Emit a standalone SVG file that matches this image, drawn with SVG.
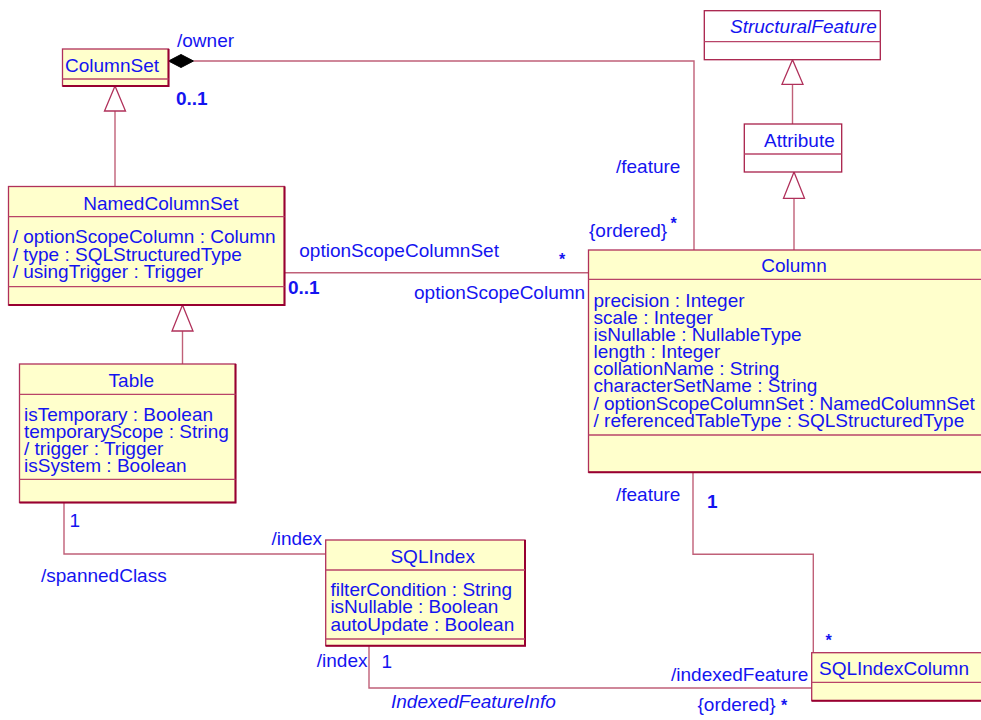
<svg xmlns="http://www.w3.org/2000/svg" width="981" height="720" viewBox="0 0 981 720">
<style>
text{font-family:"Liberation Sans",Arial,sans-serif;font-size:19px;fill:#1414f0}
.b{font-weight:bold}
.it{font-style:italic}
.ast{font-weight:bold;font-size:16px}
.box{fill:#ffffcc;stroke:#b0305a;stroke-width:1.3}
.wbox{fill:#ffffff;stroke:#a8204a;stroke-width:1.3}
.sh{fill:none;stroke:#980030;stroke-width:2}
.div{stroke:#b84468;stroke-width:1.3}
.conn{fill:none;stroke:#c06078;stroke-width:1.4}
.gen{fill:#ffffff;stroke:#b0305a;stroke-width:1.3}
</style>
<rect width="981" height="720" fill="#ffffff"/>
<g id="connectors">
<polyline class="conn" points="193.5,61 694,61 694,250"/>
<polygon points="168.5,61 181,54.5 193.5,61 181,67.5" fill="#000000" stroke="#000000" stroke-width="1"/>
<line class="conn" x1="115" y1="186.5" x2="115" y2="111"/>
<polygon class="gen" points="115,86 104.5,111 125.5,111"/>
<line class="conn" x1="182.5" y1="364" x2="182.5" y2="331"/>
<polygon class="gen" points="182.5,305 172,331 193,331"/>
<line class="conn" x1="792.5" y1="124" x2="792.5" y2="84.3"/>
<polygon class="gen" points="792.5,59.7 782,84.3 803,84.3"/>
<line class="conn" x1="794" y1="250" x2="794" y2="198.3"/>
<polygon class="gen" points="794,172 783.5,198.3 804.5,198.3"/>
<line class="conn" x1="284.5" y1="272.7" x2="588.5" y2="272.7"/>
<polyline class="conn" points="64,502.5 64,554 325.7,554"/>
<polyline class="conn" points="369,645.7 369,688 811.7,688"/>
<polyline class="conn" points="693,472.3 693,554.3 813.3,554.3 813.3,652.7"/>
<text x="177" y="47">/owner</text>
<text class="b" x="176" y="105">0..1</text>
<text x="616" y="173">/feature</text>
<text x="589" y="237">{ordered}</text>
<text class="ast" x="670.5" y="229">*</text>
<text x="299.3" y="257.3">optionScopeColumnSet</text>
<text class="ast" x="559" y="265">*</text>
<text class="b" x="288" y="294.3">0..1</text>
<text x="414" y="299.3">optionScopeColumn</text>
<text x="616" y="500.7">/feature</text>
<text class="b" x="707" y="508.3">1</text>
<text class="ast" x="825.5" y="646">*</text>
<text x="671" y="681">/indexedFeature</text>
<text x="697.5" y="711">{ordered} <tspan class="ast">*</tspan></text>
<text x="69.6" y="527.3">1</text>
<text x="271.4" y="545">/index</text>
<text x="41" y="581.7">/spannedClass</text>
<text x="316.8" y="667.3">/index</text>
<text x="381.4" y="668">1</text>
<text class="it" x="391" y="708.3">IndexedFeatureInfo</text>
</g>
<g id="ColumnSet">
<rect class="box" x="62.5" y="49" width="106" height="37"/>
<polyline class="sh" points="168.5,49 168.5,86 62.5,86"/>
<line class="div" x1="62.5" y1="79" x2="168.5" y2="79"/>
<text x="65" y="71.7">ColumnSet</text>
</g>
<g id="NamedColumnSet">
<rect class="box" x="8.5" y="186.5" width="276" height="118.5"/>
<polyline class="sh" points="284.5,186.5 284.5,305 8.5,305"/>
<line class="div" x1="8.5" y1="216.7" x2="284.5" y2="216.7"/>
<line class="div" x1="8.5" y1="286.7" x2="284.5" y2="286.7"/>
<text x="160.8" y="210" text-anchor="middle">NamedColumnSet</text>
<text x="12.7" y="243">/ optionScopeColumn : Column</text>
<text x="12.7" y="260.5">/ type : SQLStructuredType</text>
<text x="12.7" y="278">/ usingTrigger : Trigger</text>
</g>
<g id="Table">
<rect class="box" x="19.5" y="364" width="216" height="138.5"/>
<polyline class="sh" points="235.5,364 235.5,502.5 19.5,502.5"/>
<line class="div" x1="19.5" y1="394.3" x2="235.5" y2="394.3"/>
<line class="div" x1="19.5" y1="479.3" x2="235.5" y2="479.3"/>
<text x="131.3" y="386.7" text-anchor="middle">Table</text>
<text x="24" y="420.7">isTemporary : Boolean</text>
<text x="24" y="437.8">temporaryScope : String</text>
<text x="24" y="454.9">/ trigger : Trigger</text>
<text x="24" y="472">isSystem : Boolean</text>
</g>
<g id="SQLIndex">
<rect class="box" x="325.7" y="540" width="199.3" height="105.7"/>
<polyline class="sh" points="525,540 525,645.7 325.7,645.7"/>
<line class="div" x1="325.7" y1="570" x2="525" y2="570"/>
<line class="div" x1="325.7" y1="639" x2="525" y2="639"/>
<text x="432.7" y="562.7" text-anchor="middle">SQLIndex</text>
<text x="330.4" y="596">filterCondition : String</text>
<text x="330.4" y="613.3">isNullable : Boolean</text>
<text x="330.4" y="630.5">autoUpdate : Boolean</text>
</g>
<g id="Column">
<rect class="box" x="588.5" y="250" width="400" height="222.3"/>
<line class="sh" x1="588.5" y1="472.3" x2="990" y2="472.3"/>
<line class="div" x1="588.5" y1="279.3" x2="990" y2="279.3"/>
<line class="div" x1="588.5" y1="435" x2="990" y2="435"/>
<text x="794" y="272" text-anchor="middle">Column</text>
<text x="593.5" y="306.7">precision : Integer</text>
<text x="593.5" y="323.8">scale : Integer</text>
<text x="593.5" y="341">isNullable : NullableType</text>
<text x="593.5" y="358.1">length : Integer</text>
<text x="593.5" y="375.3">collationName : String</text>
<text x="593.5" y="392.4">characterSetName : String</text>
<text x="593.5" y="409.5">/ optionScopeColumnSet : NamedColumnSet</text>
<text x="593.5" y="426.7">/ referencedTableType : SQLStructuredType</text>
</g>
<g id="StructuralFeature">
<rect class="wbox" x="704.3" y="10.7" width="176" height="49"/>
<line class="div" x1="704.3" y1="41.7" x2="880.3" y2="41.7"/>
<text class="it" x="730" y="33.3">StructuralFeature</text>
</g>
<g id="Attribute">
<rect class="wbox" x="744.3" y="124" width="97.4" height="48"/>
<line class="div" x1="744.3" y1="154" x2="841.7" y2="154"/>
<text x="764" y="146.7">Attribute</text>
</g>
<g id="SQLIndexColumn">
<rect class="box" x="811.7" y="652.7" width="180" height="48"/>
<line class="sh" x1="811.7" y1="700.7" x2="991" y2="700.7"/>
<line class="div" x1="811.7" y1="682.3" x2="991" y2="682.3"/>
<text x="819" y="675">SQLIndexColumn</text>
</g>
</svg>
